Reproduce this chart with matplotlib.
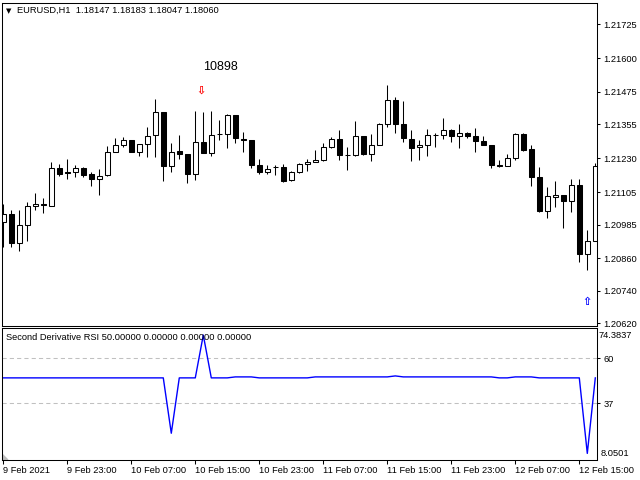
import matplotlib
matplotlib.use("Agg")
import matplotlib.pyplot as plt
import numpy as np

plt.rcParams['font.family'] = ['Liberation Sans', 'DejaVu Sans']

## EURUSD H1 bars

opens = [1.20994, 1.21023, 1.20916, 1.20982, 1.21052, 1.21060, 1.21055, 1.21193, 1.21178, 1.21178,
         1.21193, 1.21171, 1.21152, 1.21167, 1.21252, 1.21278, 1.21296, 1.21252, 1.21281, 1.21315,
         1.21400, 1.21200, 1.21256, 1.21245, 1.21171, 1.21289, 1.21248, 1.21318, 1.21318, 1.21389,
         1.21300, 1.21296, 1.21204, 1.21178, 1.21196, 1.21196, 1.21148, 1.21178, 1.21208, 1.21215,
         1.21222, 1.21270, 1.21300, 1.21241, 1.21241, 1.21311, 1.21245, 1.21278, 1.21355, 1.21444,
         1.21355, 1.21300, 1.21270, 1.21278, 1.21315, 1.21315, 1.21333, 1.21311, 1.21322, 1.21311,
         1.21293, 1.21278, 1.21204, 1.21200, 1.21230, 1.21318, 1.21263, 1.21160, 1.21034, 1.21086,
         1.21093, 1.21071, 1.21130, 1.20875, 1.20924]
highs = [1.21061, 1.21039, 1.21038, 1.21067, 1.21100, 1.21082, 1.21215, 1.21208, 1.21226, 1.21204,
         1.21196, 1.21178, 1.21189, 1.21274, 1.21304, 1.21307, 1.21296, 1.21281, 1.21344, 1.21448,
         1.21400, 1.21285, 1.21315, 1.21245, 1.21403, 1.21400, 1.21403, 1.21370, 1.21392, 1.21389,
         1.21326, 1.21296, 1.21226, 1.21204, 1.21204, 1.21208, 1.21182, 1.21211, 1.21226, 1.21259,
         1.21285, 1.21307, 1.21333, 1.21270, 1.21367, 1.21311, 1.21318, 1.21359, 1.21500, 1.21455,
         1.21440, 1.21333, 1.21296, 1.21337, 1.21322, 1.21378, 1.21337, 1.21355, 1.21326, 1.21341,
         1.21311, 1.21278, 1.21222, 1.21245, 1.21322, 1.21322, 1.21278, 1.21196, 1.21123, 1.21145,
         1.21093, 1.21152, 1.21152, 1.20964, 1.21211]
lows = [1.20902, 1.20903, 1.20888, 1.20925, 1.21038, 1.21026, 1.21054, 1.21165, 1.21152, 1.21160,
        1.21160, 1.21126, 1.21093, 1.21163, 1.21252, 1.21270, 1.21252, 1.21237, 1.21233, 1.21233,
        1.21145, 1.21178, 1.21226, 1.21137, 1.21148, 1.21248, 1.21237, 1.21296, 1.21267, 1.21285,
        1.21252, 1.21193, 1.21171, 1.21171, 1.21167, 1.21141, 1.21145, 1.21174, 1.21182, 1.21215,
        1.21219, 1.21267, 1.21222, 1.21185, 1.21237, 1.21241, 1.21219, 1.21278, 1.21344, 1.21322,
        1.21289, 1.21219, 1.21222, 1.21237, 1.21270, 1.21300, 1.21289, 1.21267, 1.21304, 1.21252,
        1.21278, 1.21193, 1.21196, 1.21200, 1.21222, 1.21256, 1.21126, 1.21030, 1.21008, 1.21049,
        1.20971, 1.21030, 1.20846, 1.20817, 1.20924]
closes = [1.21023, 1.20916, 1.20982, 1.21052, 1.21060, 1.21056, 1.21193, 1.21173, 1.21174, 1.21193,
          1.21167, 1.21152, 1.21163, 1.21252, 1.21278, 1.21296, 1.21252, 1.21281, 1.21311, 1.21400,
          1.21200, 1.21252, 1.21245, 1.21171, 1.21289, 1.21248, 1.21315, 1.21318, 1.21389, 1.21304,
          1.21296, 1.21204, 1.21178, 1.21189, 1.21196, 1.21145, 1.21178, 1.21208, 1.21215, 1.21222,
          1.21270, 1.21300, 1.21241, 1.21241, 1.21311, 1.21245, 1.21278, 1.21355, 1.21444, 1.21355,
          1.21304, 1.21267, 1.21278, 1.21315, 1.21315, 1.21333, 1.21311, 1.21322, 1.21311, 1.21293,
          1.21278, 1.21204, 1.21200, 1.21230, 1.21318, 1.21259, 1.21160, 1.21034, 1.21089, 1.21093,
          1.21071, 1.21130, 1.20875, 1.20924, 1.21200]

## second derivative RSI line
rsi2 = [50.0, 50.0, 50.0, 50.0, 50.0, 50.0, 50.0, 50.0, 50.0, 50.0,
        50.0, 50.0, 50.0, 50.0, 50.0, 50.0, 50.0, 50.0, 50.0, 50.0,
        50.0, 21.7, 50.0, 50.0, 50.0, 71.9, 50.0, 50.0, 50.0, 50.5,
        50.5, 50.5, 50.0, 50.0, 50.0, 50.0, 50.0, 50.0, 50.0, 50.5,
        50.5, 50.5, 50.5, 50.5, 50.5, 50.5, 50.5, 50.5, 50.5, 51.0,
        50.5, 50.5, 50.5, 50.5, 50.5, 50.5, 50.5, 50.5, 50.5, 50.5,
        50.5, 50.5, 50.0, 50.0, 50.5, 50.5, 50.5, 50.0, 50.0, 50.0,
        50.0, 50.0, 50.0, 11.4, 50.0]
rsi_levels = [60, 37]
rsi_max_label = "74.3837"
rsi_min_label = "8.0501"

price_ticks = [1.21725, 1.21600, 1.21475, 1.21355, 1.21230, 1.21105, 1.20985, 1.20860, 1.20740, 1.20620]
time_tick_bars = [0, 8, 16, 24, 32, 40, 48, 56, 64, 72]
time_tick_labels = ["9 Feb 2021", "9 Feb 23:00", "10 Feb 07:00", "10 Feb 15:00", "10 Feb 23:00",
                    "11 Feb 07:00", "11 Feb 15:00", "11 Feb 23:00", "12 Feb 07:00", "12 Feb 15:00"]

sell_bar, sell_price = 25, 1.21480
buy_bar, buy_price = 73, 1.20699
note_bar, note_price, note_text = 25, 1.21569, "10898"

## figure, laid out in screen pixels like the terminal window

W, H = 640, 480
fig = plt.figure(figsize=(W/100, H/100), dpi=100)

def px_axes(x0, y0, x1, y1):
    return fig.add_axes([x0/W, 1-y1/H, (x1-x0)/W, (y1-y0)/H])

ax = px_axes(2, 2.7, 597.3, 325.7)
ax2 = px_axes(2, 328, 597.3, 460)

lw = 0.75
fs = 6.7
xs = np.arange(len(opens))

for a in (ax, ax2):
    a.set_xlim(-0.16, 74.25)
    for s in a.spines.values():
        s.set_linewidth(lw)
        s.set_color("black")

## candles
o = np.array(opens); c = np.array(closes)
ax.vlines(xs, lows, highs, color="black", linewidth=lw, zorder=1)
up = c > o
down = c < o
flat = c == o
ax.bar(xs[up], (c - o)[up], bottom=o[up], width=0.56, facecolor="white",
       edgecolor="black", linewidth=lw, zorder=2)
ax.bar(xs[down], (o - c)[down], bottom=c[down], width=0.56, facecolor="black",
       edgecolor="black", linewidth=lw, zorder=2)
ax.hlines(c[flat], xs[flat] - 0.3, xs[flat] + 0.3, color="black", linewidth=lw, zorder=2)

ax.set_ylim(1.20611, 1.21805)
ax.set_yticks(price_ticks)
ax.set_yticklabels(["%.5f" % p for p in price_ticks])
ax.yaxis.tick_right()
ax.tick_params(axis="y", length=2.5, width=lw, pad=2, labelsize=fs)
ax.set_xticks([])

## signal arrows and label
ax.annotate("\u21e9", (sell_bar, sell_price), xytext=(-1.7, 0), textcoords="offset points",
            ha="center", va="center", color="red", fontsize=8, fontweight="bold",
            family="DejaVu Sans")
ax.annotate("\u21e7", (buy_bar, buy_price), xytext=(-0.3, 0), textcoords="offset points",
            ha="center", va="center", color="blue", fontsize=8, fontweight="bold",
            family="DejaVu Sans")
ax.text(note_bar, note_price, note_text, ha="left", va="center", fontsize=9)

fig.text(9/W, 1-11/H, "\u25bc", ha="center", va="center", fontsize=5, family="DejaVu Sans")
fig.text(17/W, 1-10.5/H, "EURUSD,H1  1.18147 1.18183 1.18047 1.18060",
         ha="left", va="center", fontsize=fs)

## indicator window
ax2.plot(xs, rsi2, color="blue", linewidth=1.0)
for lv in rsi_levels:
    ax2.axhline(lv, color="#c0c0c0", linewidth=lw, linestyle=(0, (4, 3)), zorder=0)
ax2.set_ylim(8.02, 75.5)
ax2.set_yticks(rsi_levels)
ax2.set_yticklabels([str(v) for v in rsi_levels])
ax2.yaxis.tick_right()
ax2.tick_params(axis="y", length=2.5, width=lw, pad=2, labelsize=fs)
fig.text(599/W, 1-335/H, rsi_max_label, ha="left", va="center", fontsize=fs)
fig.text(600.5/W, 1-454/H, rsi_min_label, ha="left", va="center", fontsize=fs)
fig.text(6/W, 1-337/H, "Second Derivative RSI 50.00000 0.00000 0.00000 0.00000",
         ha="left", va="center", fontsize=fs)

ax2.set_xticks(time_tick_bars)
ax2.set_xticklabels(time_tick_labels, ha="left")
ax2.tick_params(axis="x", length=3, width=lw, pad=1, labelsize=fs)

## small grey corner marker
ax2.fill([0, 0, 0.01], [0, 0.045, 0], transform=ax2.transAxes, color="#bdbdbd", zorder=0)

fig.savefig("out.png", dpi=100)
